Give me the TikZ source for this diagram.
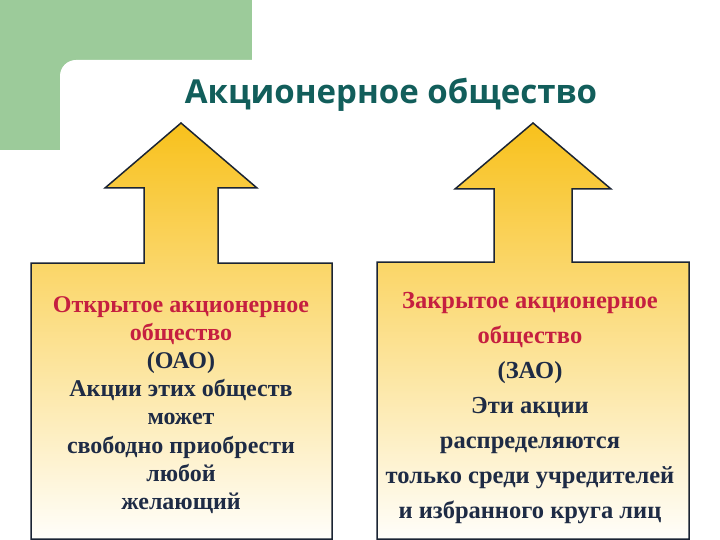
\documentclass[tikz,border=0pt]{standalone}
\usepackage{fontspec}
\setmainfont{Liberation Serif}
\newfontfamily\titlefont{Open Sans}
\definecolor{slidegreen}{HTML}{9CCB9A}
\definecolor{titleteal}{HTML}{125E5B}
\definecolor{outline}{HTML}{1B2433}
\definecolor{arrowtop}{HTML}{F8C11C}
\definecolor{boxmid}{HTML}{FEE4A4}
\definecolor{boxbottom}{HTML}{FFFEFA}
\definecolor{crimson}{HTML}{C51F40}
\definecolor{navy}{HTML}{1E2B45}
\begin{document}
\begin{tikzpicture}[x=1pt, y=-1pt,
  upshape/.style = {draw=outline, line width=1.5pt, line join=miter,
                    top color=arrowtop, middle color=boxmid, bottom color=boxbottom},
  titletext/.style = {text=titleteal, font=\titlefont\bfseries\fontsize{33}{40}\selectfont},
  oaotext/.style = {text=navy, align=center, font=\bfseries\fontsize{24}{28.2}\selectfont},
  zaotext/.style = {text=navy, align=center, font=\bfseries\fontsize{24.5}{35}\selectfont}]
  \useasboundingbox (0,0) rectangle (720,540);
  % slide corner
  \fill[slidegreen] (0,0) rectangle (252,150);
  \fill[white, rounded corners=16pt] (60,60) rectangle (760,580);
  % left arrow with box
  \shade[upshape] (31,539) -- (31,263) -- (144,263) -- (144,188) -- (105,188)
    -- (181,123) -- (257,188) -- (218,188) -- (218,263) -- (332,263)
    -- (332,539) -- cycle;
  % right arrow with box
  \shade[upshape] (377,539) -- (377,262) -- (494,262) -- (494,189) -- (455,189)
    -- (533,123) -- (611,189) -- (572,189) -- (572,262) -- (689,262)
    -- (689,539) -- cycle;
  \node[titletext] (title) at (391,95) {Акционерное общество};
  \node[oaotext] (oao) at (181,405) {\textcolor{crimson}{Открытое акционерное}\\
    \textcolor{crimson}{общество}\\ (ОАО)\\ Акции этих обществ\\ может\\
    свободно приобрести\\ любой\\ желающий};
  \node[zaotext] (zao) at (530,408) {\textcolor{crimson}{Закрытое акционерное}\\
    \textcolor{crimson}{общество}\\ (ЗАО)\\ Эти акции\\ распределяются\\
    только среди учредителей\\ и избранного круга лиц};
\end{tikzpicture}
\end{document}
